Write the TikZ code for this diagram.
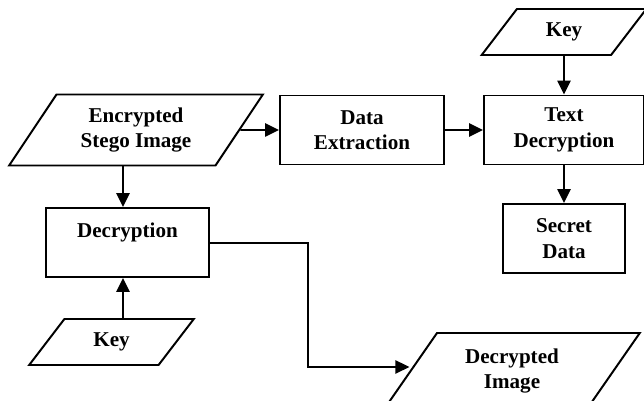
\documentclass[tikz,border=0pt]{standalone}
\usepackage{fontspec}
\setmainfont{Liberation Serif}
\usepackage{tikz}
\usetikzlibrary{calc}
\usetikzlibrary{arrows.meta}
\usetikzlibrary{shapes}
\usetikzlibrary{positioning}
\usetikzlibrary{shapes.geometric}

\begin{document}
\begin{tikzpicture}[
  font=\fontsize{15}{18}\selectfont\bfseries,
  procbox/.style={rectangle, draw=black, line width=1.4pt, align=center, inner sep=0pt},
  iobox/.style={trapezium, trapezium left angle=53.5, trapezium right angle=126.5,
    trapezium stretches=true, draw=black, line width=1.4pt, align=center, inner sep=0pt},
  arr/.style={-{Triangle[length=0.35cm, width=0.33cm]}, line width=1.4pt}
]
\useasboundingbox (0, 0) rectangle (16.1, 10.025);
\node [iobox, minimum width=6.35cm, minimum height=1.775cm] (enc) at (3.4, 6.775) {Encrypted\\Stego Image};
\node [procbox, minimum width=4.1cm, minimum height=1.725cm] (ext) at (9.05, 6.775) {Data\\Extraction};
\node [procbox, minimum width=4.0cm, minimum height=1.725cm] (txt) at (14.1, 6.775) {Text\\Decryption};
\node [iobox, minimum width=4.125cm, minimum height=1.15cm] (keyT) at (14.1, 9.225) {Key};
\node [procbox, minimum width=3.05cm, minimum height=1.725cm] (sec) at (14.1, 4.0625) {Secret\\Data};
\node [procbox, minimum width=4.075cm, minimum height=1.725cm] (dec) at (3.1875, 3.9625) {Decryption\\\mbox{}};
\node [iobox, minimum width=4.125cm, minimum height=1.15cm] (keyD) at (2.7875, 1.475) {Key};
\node [iobox, minimum width=6.4cm, minimum height=1.9cm] (out) at (12.8, 0.75) {Decrypted\\Image};
\coordinate (bend) at (7.7, 3.95);
\draw [arr] (enc) to (ext);
\draw [arr] (ext) to (txt);
\draw [arr] (keyT) to (txt);
\draw [arr] (txt) to (sec);
\draw [arr] ([xshift=-0.1125cm]dec.north |- enc.south) to ([xshift=-0.1125cm]dec.north);
\draw [arr] ([xshift=-0.1125cm]dec.south |- keyD.north) to ([xshift=-0.1125cm]dec.south);
\draw [arr] (dec.east |- bend) -- (bend) |- ([yshift=0.1cm]out.west);
\end{tikzpicture}
\end{document}
